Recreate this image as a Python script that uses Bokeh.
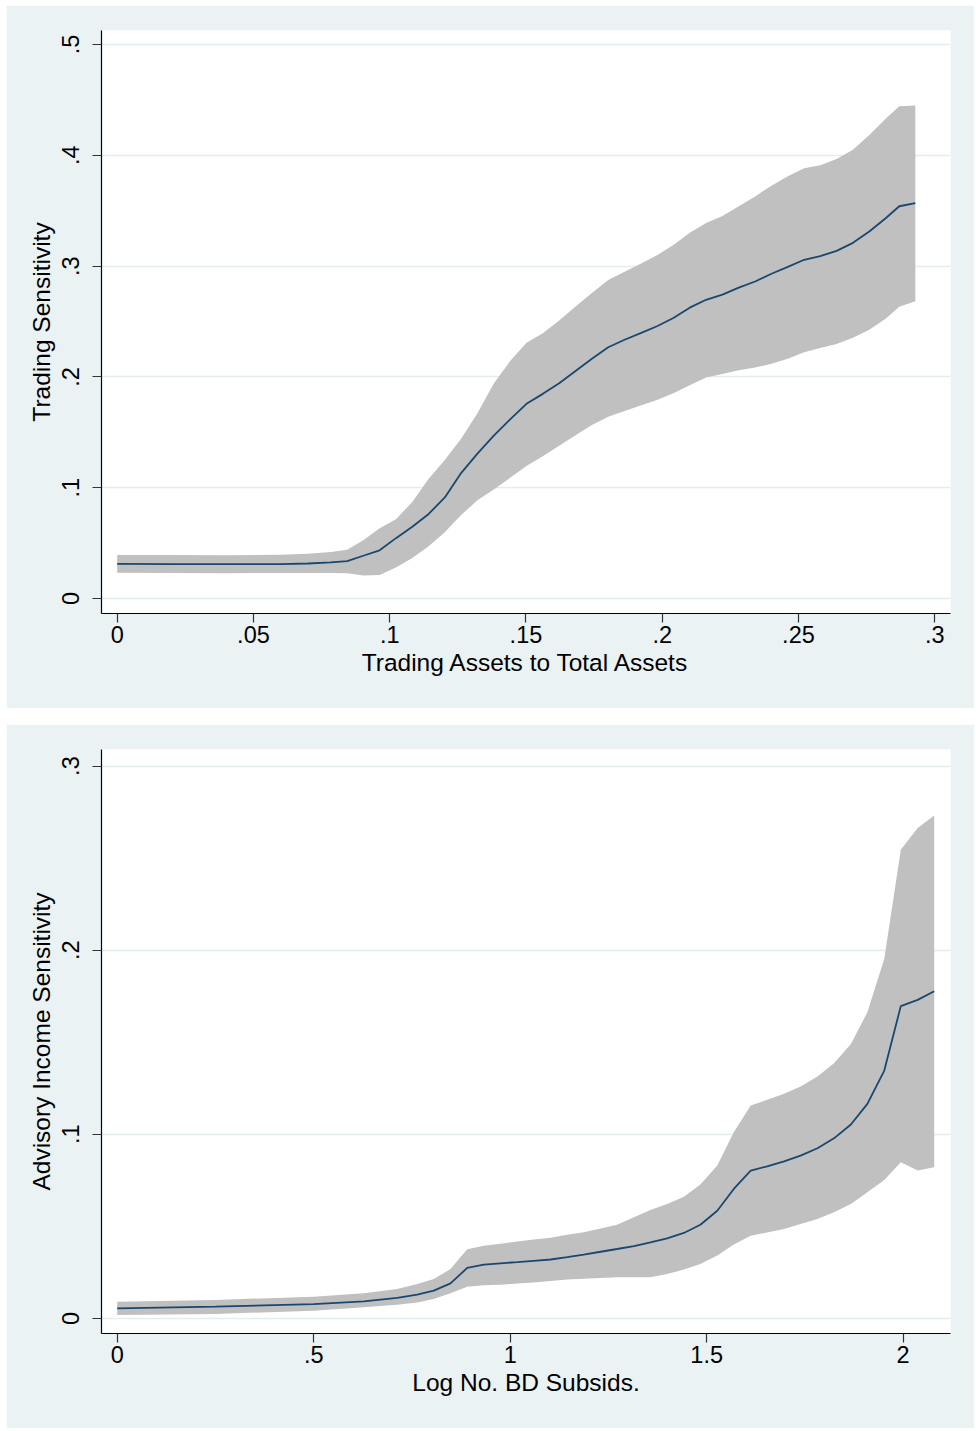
from bokeh.plotting import figure
from bokeh.layouts import column
from bokeh.models import FixedTicker, Range1d
from bokeh.embed import file_html
from bokeh.resources import INLINE

# ---------------- Top panel: Trading sensitivity ----------------
trade_x = [0.0, 0.02, 0.04, 0.06, 0.07, 0.0784, 0.0844, 0.0903, 0.0963, 0.1023,
           0.1083, 0.1143, 0.1203, 0.1262, 0.1322, 0.1382, 0.1442, 0.1502, 0.1562,
           0.1622, 0.1682, 0.1742, 0.1802, 0.1862, 0.1921, 0.1981, 0.2041, 0.2101,
           0.2161, 0.2221, 0.2281, 0.2341, 0.2401, 0.2461, 0.2521, 0.2580, 0.2640,
           0.2700, 0.2760, 0.2820, 0.2870, 0.2929]
trade_fit = [0.0313, 0.0311, 0.0310, 0.0311, 0.0316, 0.0326, 0.0338, 0.0386, 0.0435, 0.0545,
             0.0648, 0.0763, 0.0915, 0.1132, 0.1308, 0.1471, 0.1617, 0.1757, 0.1847,
             0.1943, 0.2053, 0.2163, 0.2268, 0.2335, 0.2395, 0.2457, 0.2532, 0.2625,
             0.2696, 0.2742, 0.2806, 0.2861, 0.2931, 0.2993, 0.3057, 0.3090, 0.3137,
             0.3210, 0.3312, 0.3432, 0.3540, 0.3568]
trade_hi = [0.0394, 0.0392, 0.0391, 0.0395, 0.0405, 0.0420, 0.0440, 0.0526, 0.0635, 0.0715,
            0.0872, 0.1081, 0.1252, 0.1443, 0.1673, 0.1940, 0.2143, 0.2308, 0.2395,
            0.2510, 0.2636, 0.2757, 0.2874, 0.2948, 0.3021, 0.3098, 0.3190, 0.3300,
            0.3390, 0.3452, 0.3540, 0.3629, 0.3726, 0.3810, 0.3883, 0.3909, 0.3966,
            0.4049, 0.4183, 0.4330, 0.4443, 0.4450]
trade_lo = [0.0232, 0.0230, 0.0229, 0.0230, 0.0231, 0.0230, 0.0229, 0.0208, 0.0213, 0.0280,
            0.0366, 0.0472, 0.0600, 0.0754, 0.0886, 0.0985, 0.1089, 0.1196, 0.1283,
            0.1378, 0.1474, 0.1567, 0.1640, 0.1692, 0.1742, 0.1792, 0.1853, 0.1925,
            0.1995, 0.2026, 0.2060, 0.2084, 0.2118, 0.2164, 0.2223, 0.2260, 0.2298,
            0.2354, 0.2425, 0.2524, 0.2632, 0.2683]
trade_xticks = [0, 0.05, 0.1, 0.15, 0.2, 0.25, 0.3]
trade_xlabels = ["0", ".05", ".1", ".15", ".2", ".25", ".3"]
trade_yticks = [0, 0.1, 0.2, 0.3, 0.4, 0.5]
trade_ylabels = ["0", ".1", ".2", ".3", ".4", ".5"]

# ---------------- Bottom panel: Advisory income sensitivity ----------------
adv_x = [0.0, 0.25, 0.5, 0.6275, 0.7125, 0.7634, 0.8057, 0.8481, 0.8906, 0.933,
         0.975, 1.018, 1.06, 1.103, 1.145, 1.187, 1.23, 1.272, 1.315, 1.357,
         1.3995, 1.442, 1.484, 1.527, 1.569, 1.612, 1.654, 1.697, 1.739, 1.782,
         1.824, 1.867, 1.909, 1.952, 1.994, 2.037, 2.079]
adv_fit = [0.0054, 0.0064, 0.0078, 0.0092, 0.0111, 0.0129, 0.0151, 0.0190, 0.0274, 0.0292,
           0.0299, 0.0306, 0.0313, 0.0320, 0.0333, 0.0347, 0.0362, 0.0377, 0.0393, 0.0413,
           0.0435, 0.0464, 0.0509, 0.0585, 0.0703, 0.0803, 0.0826, 0.0853, 0.0884, 0.0924,
           0.0978, 0.1053, 0.1165, 0.1346, 0.1696, 0.1730, 0.1777]
adv_hi = [0.0091, 0.0100, 0.0118, 0.0136, 0.0160, 0.0187, 0.0214, 0.0268, 0.0375, 0.0395,
          0.0405, 0.0418, 0.0428, 0.0438, 0.0454, 0.0468, 0.0488, 0.0509, 0.0549, 0.0589,
          0.0622, 0.0661, 0.0727, 0.0830, 0.1011, 0.1156, 0.1187, 0.1220, 0.1259, 0.1314,
          0.1386, 0.1491, 0.1663, 0.1953, 0.2546, 0.2663, 0.2732]
adv_lo = [0.0018, 0.0024, 0.0042, 0.0060, 0.0074, 0.0087, 0.0105, 0.0136, 0.0172, 0.0180,
          0.0183, 0.0189, 0.0195, 0.0203, 0.0211, 0.0216, 0.0220, 0.0223, 0.0223, 0.0223,
          0.0241, 0.0265, 0.0296, 0.0341, 0.0401, 0.0449, 0.0467, 0.0486, 0.0513, 0.0540,
          0.0576, 0.0622, 0.0685, 0.0752, 0.0848, 0.0803, 0.0821]
adv_xticks = [0, 0.5, 1, 1.5, 2]
adv_xlabels = ["0", ".5", "1", "1.5", "2"]
adv_yticks = [0, 0.1, 0.2, 0.3]
adv_ylabels = ["0", ".1", ".2", ".3"]

BG = "#EAF2F3"
GRID = "#E3ECEE"
LINE = "#1A476F"
BAND = "#C0C0C0"
FONT = "Liberation Sans"
FS_TICK = "23.5px"
FS_TITLE = "24.5px"


def panel(x, fit, hi, lo, xr, yr, xticks, xlabels, yticks, ylabels,
          xtitle, ytitle, height, top_border):
    p = figure(width=968, height=height, output_backend="svg", toolbar_location=None,
               x_range=Range1d(*xr), y_range=Range1d(*yr),
               min_border_left=95, min_border_right=24,
               min_border_top=top_border, min_border_bottom=95)
    p.border_fill_color = BG
    p.background_fill_color = "white"
    p.outline_line_color = None

    p.varea(x=x, y1=lo, y2=hi, fill_color=BAND, fill_alpha=1.0)
    p.line(x=x, y=fit, line_color=LINE, line_width=1.8)

    p.xgrid.visible = False
    p.ygrid.ticker = FixedTicker(ticks=yticks)
    p.ygrid.grid_line_color = GRID
    p.ygrid.grid_line_width = 1.5

    p.xaxis.ticker = FixedTicker(ticks=xticks)
    p.yaxis.ticker = FixedTicker(ticks=yticks)
    p.xaxis.major_label_overrides = dict(zip(xticks, xlabels))
    p.yaxis.major_label_overrides = dict(zip(yticks, ylabels))
    p.yaxis.major_label_orientation = "vertical"

    for ax in (p.xaxis[0], p.yaxis[0]):
        ax.axis_line_color = "black"
        ax.axis_line_width = 1.2
        ax.major_tick_line_color = "#333333"
        ax.major_tick_line_width = 1.2
        ax.major_tick_out = 9
        ax.major_tick_in = 0
        ax.minor_tick_out = 0
        ax.minor_tick_in = 0
        ax.major_label_text_font = FONT
        ax.major_label_text_font_size = FS_TICK
        ax.major_label_text_color = "black"
        ax.axis_label_text_font = FONT
        ax.axis_label_text_font_size = FS_TITLE
        ax.axis_label_text_font_style = "normal"
        ax.axis_label_text_color = "black"

    p.xaxis.axis_label = xtitle
    p.yaxis.axis_label = ytitle
    p.xaxis.major_label_standoff = 3
    p.xaxis.axis_label_standoff = 3
    p.yaxis.major_label_standoff = 13
    p.yaxis.axis_label_standoff = 5
    return p


p1 = panel(trade_x, trade_fit, trade_hi, trade_lo, (-0.00576, 0.3058), (-0.0135, 0.5126),
           trade_xticks, trade_xlabels, trade_yticks, trade_ylabels,
           "Trading Assets to Total Assets", "Trading Sensitivity", 703, 25)
p2 = panel(adv_x, adv_fit, adv_hi, adv_lo, (-0.04, 2.1205), (-0.0082, 0.309),
           adv_xticks, adv_xlabels, adv_yticks, adv_ylabels,
           "Log No. BD Subsids.", "Advisory Income Sensitivity", 704, 25)

layout = column(p1, p2, spacing=16, margin=(5, 0, 0, 6))
open("out.html", "w").write(file_html(layout, INLINE))
